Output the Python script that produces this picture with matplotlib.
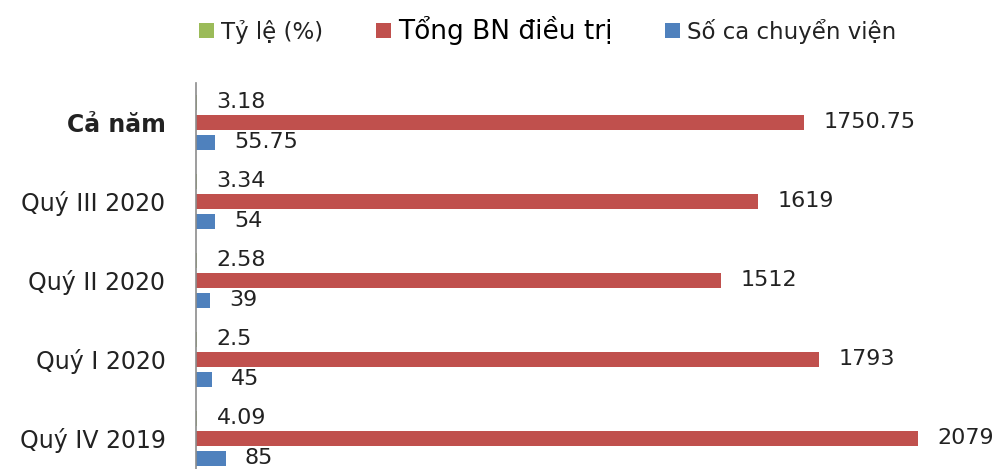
import matplotlib.pyplot as plt
import numpy as np

categories = ['Quý IV 2019', 'Quý I 2020', 'Quý II 2020', 'Quý III 2020', 'Cả năm']
ty_le = [4.09, 2.5, 2.58, 3.34, 3.18]
tong_bn = [2079, 1793, 1512, 1619, 1750.75]
chuyen_vien = [85, 45, 39, 54, 55.75]

series_names = ['Tỷ lệ (%)', 'Tổng BN điều trị', 'Số ca chuyển viện']
colors = ['#9BBB59', '#C0504D', '#4F81BD']

plt.rcParams['font.family'] = ['DejaVu Sans']
txt_color = '#222222'

W, H = 1005, 469
fig = plt.figure(figsize=(W / 100, H / 100), dpi=100)
# axes placed in pixel terms: left spine at x=196, top at y=83
ax = fig.add_axes([196 / W, 0, (990 - 196) / W, (H - 83) / H])

y = np.arange(len(categories))
step = 0.253
h = 0.19

offsets = [step, 0, -step]
data = [ty_le, tong_bn, chuyen_vien]
for vals, off, col, name in zip(data, offsets, colors, series_names):
    bars = ax.barh(y + off, vals, height=h, color=col, label=name)
    for b, v in zip(bars, vals):
        lbl = ('%g' % v)
        ax.annotate(lbl, (b.get_width(), b.get_y() + b.get_height() / 2),
                    xytext=(14, 0), textcoords='offset points',
                    ha='left', va='center', fontsize=16, color=txt_color)

ax.set_xlim(0, 794 / 0.3473)
ax.set_ylim(-0.392, 4.494)

ax.set_yticks(y)
ax.set_yticklabels(categories, fontsize=17, color=txt_color)
ax.get_yticklabels()[-1].set_fontweight('bold')
ax.tick_params(axis='y', length=0, pad=22)
ax.set_xticks([])

for s in ['top', 'right', 'bottom']:
    ax.spines[s].set_visible(False)
ax.spines['left'].set_color('#8c8c8c')
ax.spines['left'].set_linewidth(1.2)

leg = fig.legend(loc='center', bbox_to_anchor=(0.545, 1 - 30 / H), ncol=3,
                 frameon=False, fontsize=16.5, handlelength=0.65, handleheight=0.65,
                 handletextpad=0.3, columnspacing=2.3)
for t in leg.get_texts():
    t.set_color(txt_color)
leg.get_texts()[1].set_fontsize(19)
leg.get_texts()[1].set_color('black')

fig.savefig('out.png', dpi=100)
